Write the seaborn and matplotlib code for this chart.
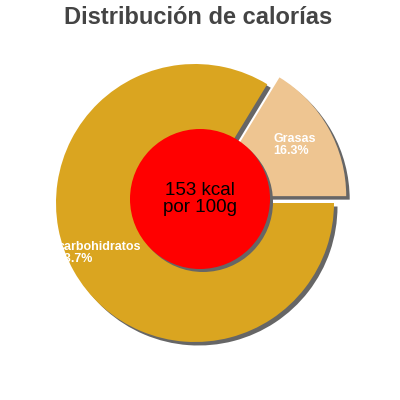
import matplotlib
matplotlib.use("Agg")
import numpy as np
import matplotlib.pyplot as plt
import seaborn as sns
from matplotlib.patches import Circle

# data
nutrients = ["Grasas", "carbohidratos"]
percent = [16.3, 83.7]
colors = ["#EEC591", "#DAA520"]
kcal_text = "153 kcal\npor 100g"
title = "Distribución de calorías"

sns.set_theme(style="white")
plt.rcParams["font.family"] = ["Liberation Sans", "DejaVu Sans"]

fig = plt.figure(figsize=(4, 4), dpi=100, facecolor="white")
ax = fig.add_axes([0, 0, 1, 1])

cx, cy, rad = 195, 197, 139
explode = [14, 0]
shadow = "#666666"

# drop shadow, then the pie itself
ax.pie(percent, colors=[shadow, shadow], radius=rad, center=(cx + 3.5, cy - 3.5),
       explode=explode, startangle=0, counterclock=True, frame=True,
       wedgeprops=dict(linewidth=0))
wedges, _ = ax.pie(percent, colors=colors, radius=rad, center=(cx, cy),
                   explode=explode, startangle=0, counterclock=True, frame=True,
                   wedgeprops=dict(linewidth=0))
ax.set_xlim(0, 400)
ax.set_ylim(0, 400)
ax.set_aspect("equal")
ax.axis("off")

# slice labels
label_pos = {"Grasas": (273, 255), "carbohidratos": (58, 147)}
for name, pct in zip(nutrients, percent):
    x, y = label_pos[name]
    ax.text(x, y, f"{name}\n{pct:.1f}%", color="white", fontsize=9,
            fontweight="bold", ha="left", va="center", linespacing=1.0)

# centre disc
ax.add_patch(Circle((203, 198), 70, color=shadow, lw=0))
ax.add_patch(Circle((200, 201), 70, color="#FF0000", lw=0))
ax.text(200, 201, kcal_text, ha="center", va="center", fontsize=13.5,
        color="black", linespacing=0.95)

fig.text(0.495, 0.957, title, ha="center", va="center", fontsize=17,
         fontweight="bold", color="#444444")

fig.savefig("out.png", dpi=100)
